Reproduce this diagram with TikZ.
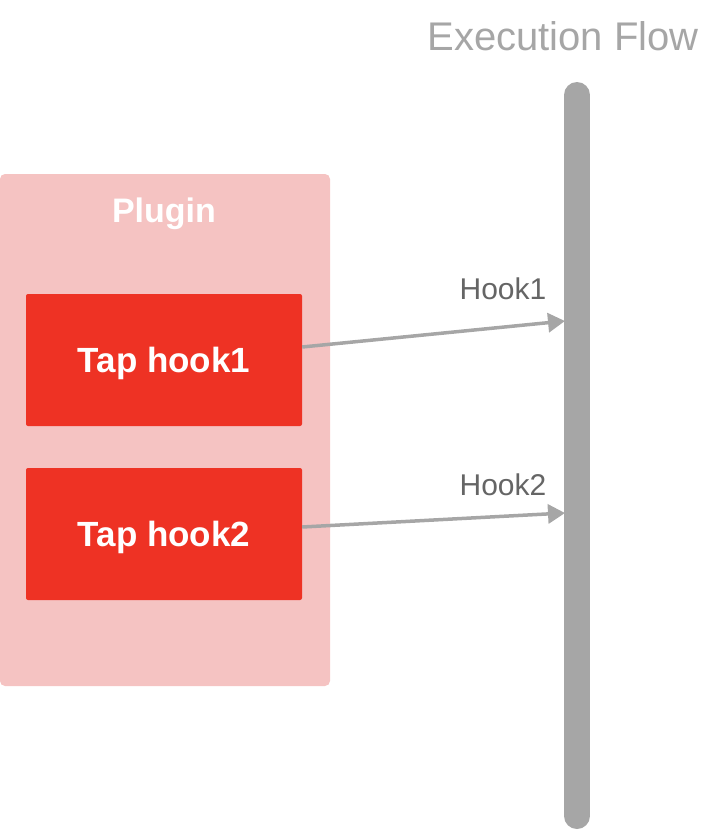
\documentclass[tikz,border=0pt]{standalone}
\usepackage{fontspec}
\setmainfont{Liberation Sans}
\usetikzlibrary{arrows.meta,positioning,calc}
\definecolor{plugbg}{HTML}{F5C3C2}
\definecolor{tapred}{HTML}{EE3224}
\definecolor{flowgray}{HTML}{A6A6A6}
\definecolor{hookgray}{HTML}{656565}
\tikzset{
  tapbox/.style={fill=tapred,rounded corners=2pt,minimum width=276pt,minimum height=132pt,
    text=white,font=\bfseries\fontsize{35}{40}\selectfont,inner sep=0pt,
    text height=27pt,text depth=3pt},
  hooklbl/.style={anchor=base,text=hookgray,font=\fontsize{30}{36}\selectfont,inner sep=0pt},
  hookarrow/.style={draw=flowgray,line width=3.5pt,-{Triangle[length=17pt,width=19pt]}}
}

\begin{document}
\begin{tikzpicture}[x=1pt,y=-1pt]
 \useasboundingbox (0,0) rectangle (710,830);
 % plugin container
 \node[fill=plugbg,rounded corners=5pt,minimum width=330pt,minimum height=512pt,
   inner sep=0pt] (plugin) at (165,430) {};
 \node[anchor=base,text=white,font=\bfseries\fontsize{34}{40}\selectfont,inner sep=0pt]
   (pluglbl) at (164,222) {Plugin};
 \node[tapbox] (tap1) at (164,360) {Tap hook1};
 \node[tapbox] (tap2) at (164,534) {Tap hook2};
 % execution flow
 \draw[flowgray,line width=26pt,line cap=round] (577,95)--(577,816);
 \node[anchor=base,text=flowgray,font=\fontsize{40}{46}\selectfont,inner sep=0pt]
   (flowlbl) at (563,50) {Execution Flow};
 \coordinate (in1) at (565,321);
 \coordinate (in2) at (565,513);
 \draw[hookarrow] ($(tap1.east)+(0,-13)$) -- (in1);
 \draw[hookarrow] ($(tap2.east)+(0,-7)$) -- (in2);
 \node[hooklbl] (hook1) at (503,299) {Hook1};
 \node[hooklbl] (hook2) at (503,495) {Hook2};
\end{tikzpicture}
\end{document}
